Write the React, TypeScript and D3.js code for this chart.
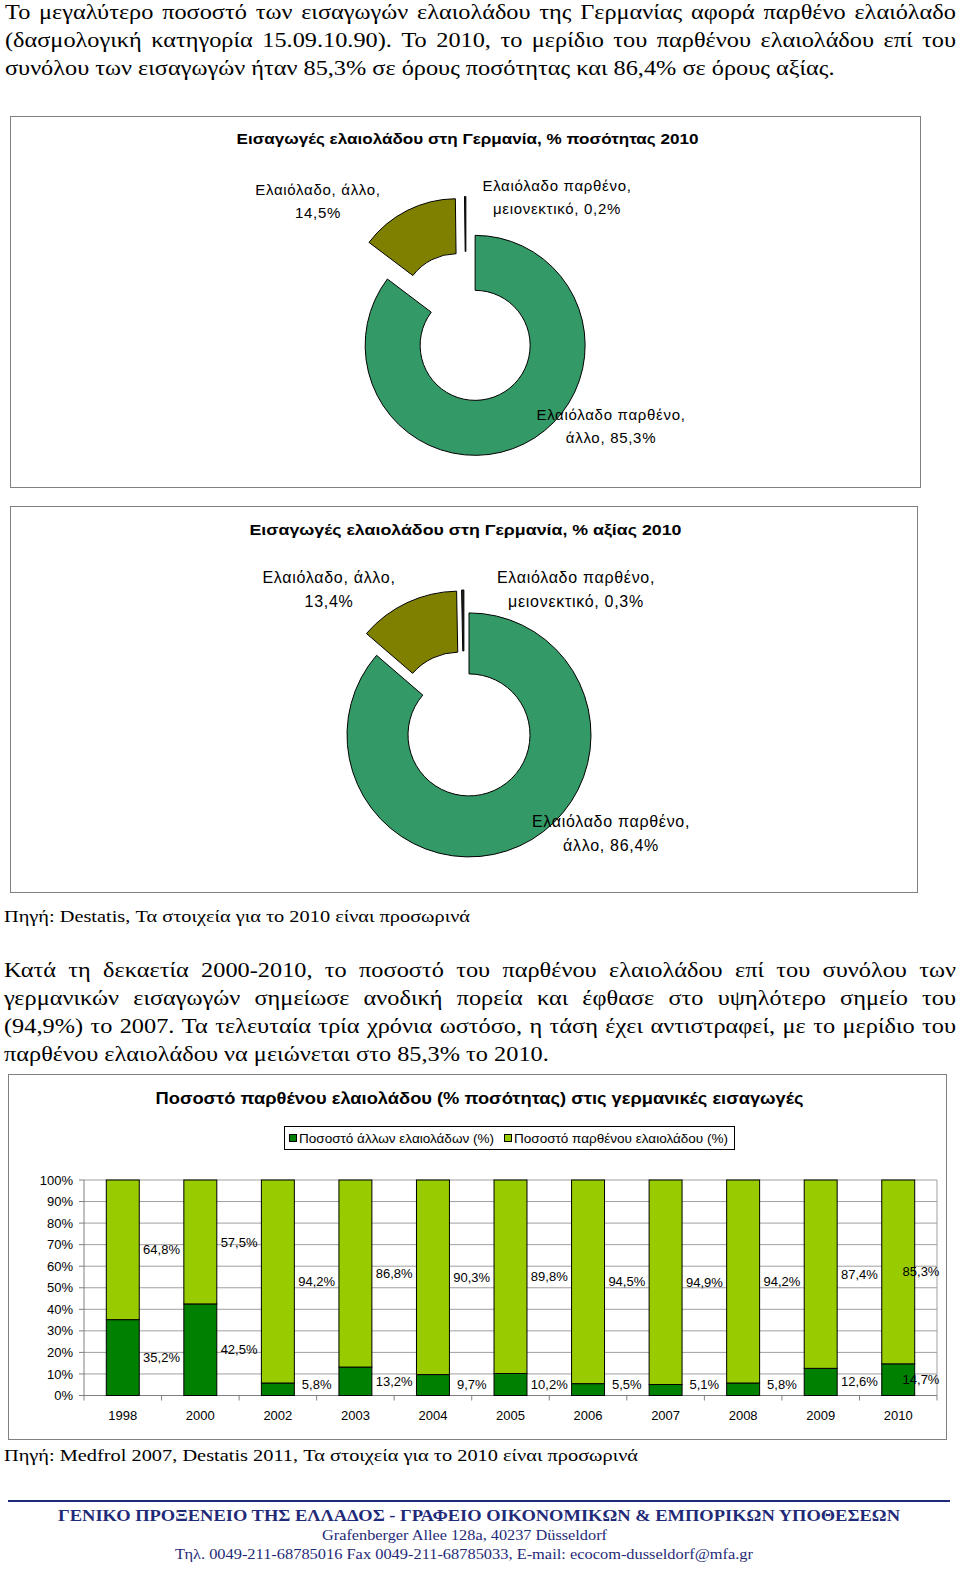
import React from 'react';
import * as d3 from 'd3';

// ---------------- DATA ----------------
const para1Lines = [
  'Το μεγαλύτερο ποσοστό των εισαγωγών ελαιολάδου της Γερμανίας αφορά παρθένο ελαιόλαδο',
  '(δασμολογική κατηγορία 15.09.10.90). Το 2010, το μερίδιο του παρθένου ελαιολάδου επί του',
  'συνόλου των εισαγωγών ήταν 85,3% σε όρους ποσότητας και 86,4% σε όρους αξίας.',
];
const para2Lines = [
  'Κατά τη δεκαετία 2000-2010, το ποσοστό του παρθένου ελαιολάδου επί του συνόλου των',
  'γερμανικών εισαγωγών σημείωσε ανοδική πορεία και έφθασε στο υψηλότερο σημείο του',
  '(94,9%) το 2007. Τα τελευταία τρία χρόνια ωστόσο, η τάση έχει αντιστραφεί, με το μερίδιο του',
  'παρθένου ελαιολάδου να μειώνεται στο 85,3% το 2010.',
];
const pieTitleQuantity = 'Εισαγωγές ελαιολάδου στη Γερμανία, % ποσότητας 2010';
const pieTitleValue = 'Εισαγωγές ελαιολάδου στη Γερμανία, % αξίας 2010';
const pieCategoryLine1 = ['Ελαιόλαδο παρθένο,', 'Ελαιόλαδο, άλλο,', 'Ελαιόλαδο παρθένο,'];
const pieCategoryLine2 = ['άλλο, ', '', 'μειονεκτικό, '];
const pieQuantity = [85.3, 14.5, 0.2];
const pieValue = [86.4, 13.4, 0.3];
const pieColors = ['#339966', '#808000', '#222222'];

const source1 = 'Πηγή: Destatis, Τα στοιχεία για το 2010 είναι προσωρινά';
const source2 = 'Πηγή: Medfrol 2007, Destatis 2011, Τα στοιχεία για το 2010 είναι προσωρινά';

const barTitle = 'Ποσοστό παρθένου ελαιολάδου (% ποσότητας) στις γερμανικές εισαγωγές';
const seriesNames = ['Ποσοστό άλλων ελαιολάδων (%)', 'Ποσοστό παρθένου ελαιολάδου (%)'];
const seriesColors = ['#008000', '#99CC00'];
const years = ['1998', '2000', '2002', '2003', '2004', '2005', '2006', '2007', '2008', '2009', '2010'];
const otherShare = [35.2, 42.5, 5.8, 13.2, 9.7, 10.2, 5.5, 5.1, 5.8, 12.6, 14.7];
const virginShare = [64.8, 57.5, 94.2, 86.8, 90.3, 89.8, 94.5, 94.9, 94.2, 87.4, 85.3];
const yTicks = [0, 10, 20, 30, 40, 50, 60, 70, 80, 90, 100];

const footerTitle = 'ΓΕΝΙΚΟ ΠΡΟΞΕΝΕΙΟ ΤΗΣ ΕΛΛΑΔΟΣ - ΓΡΑΦΕΙΟ ΟΙΚΟΝΟΜΙΚΩΝ &  ΕΜΠΟΡΙΚΩΝ ΥΠΟΘΕΣΕΩΝ';
const footerAddress = 'Grafenberger Allee 128a, 40237 Düsseldorf';
const footerContact = 'Τηλ. 0049-211-68785016  Fax 0049-211-68785033, E-mail: ecocom-dusseldorf@mfa.gr';

// ---------------- HELPERS ----------------
const SERIF = '"Liberation Serif", "Times New Roman", serif';
const SANS = '"Liberation Sans", Arial, sans-serif';
let ctx: CanvasRenderingContext2D | null = null;
function measure(text: string, font: string): number {
  if (!ctx && typeof document !== 'undefined') ctx = document.createElement('canvas').getContext('2d');
  if (!ctx) return text.length * 9;
  ctx.font = font;
  return ctx.measureText(text).width;
}
const fmt = (v: number) => v.toFixed(1).replace('.', ',') + '%';

function Paragraph({ lines, x0, width, lastWidth, baseline0, lineGap, fontSize }: any) {
  const font = `${fontSize}px "Liberation Serif"`;
  const last = lines[lines.length - 1];
  const s = lastWidth / measure(last, font);
  const W = width / s;
  return (
    <g transform={`translate(${x0},0) scale(${s},1)`} fontFamily={SERIF} fontSize={fontSize} fill="#000">
      {lines.map((line: string, i: number) => {
        const yb = baseline0 + i * lineGap;
        if (i === lines.length - 1) return <text key={i} x={0} y={yb}>{line}</text>;
        const words = line.split(' ');
        const ws = words.map((w) => measure(w, font));
        const gap = (W - d3.sum(ws)) / (words.length - 1);
        let cx = 0;
        return (
          <text key={i} y={yb}>
            {words.map((w, j) => {
              const t = <tspan key={j} x={cx}>{w}</tspan>;
              cx += ws[j] + gap;
              return t;
            })}
          </text>
        );
      })}
    </g>
  );
}

function Donut({ values, cx, cy, R, explode, labelPos, labelSize, lineGap }: any) {
  const arcs = d3.pie<number>().sort(null).value((d) => d)(values);
  const arcGen = d3.arc<d3.PieArcDatum<number>>().innerRadius(R * 0.5).outerRadius(R);
  return (
    <g>
      {arcs.map((a, i) => {
        const mid = (a.startAngle + a.endAngle) / 2;
        const dx = Math.sin(mid) * explode;
        const dy = -Math.cos(mid) * explode;
        return (
          <path key={i} transform={`translate(${cx + dx},${cy + dy})`} d={arcGen(a) || ''}
            fill={pieColors[i]} stroke="#000" strokeWidth={1} />
        );
      })}
      {values.map((v: number, i: number) => (
        <text key={'l' + i} fontFamily={SANS} fontSize={labelSize} letterSpacing={0.7} textAnchor="middle" fill="#000">
          <tspan x={labelPos[i][0]} y={labelPos[i][1]}>{pieCategoryLine1[i]}</tspan>
          <tspan x={labelPos[i][0]} y={labelPos[i][1] + lineGap}>{pieCategoryLine2[i] + fmt(v)}</tspan>
        </text>
      ))}
    </g>
  );
}

function BarChart() {
  const left = 84, right = 937, top = 1180, bottom = 1395.5;
  const x = d3.scaleBand<string>().domain(years).range([left, right]).paddingInner(0.575).paddingOuter(0.2875);
  const y = d3.scaleLinear().domain([0, 100]).range([bottom, top]);
  const rows = years.map((yr, i) => ({ year: yr, other: otherShare[i], virgin: virginShare[i] }));
  const stack = d3.stack<any>().keys(['other', 'virgin'])(rows);
  const step = x.step();
  const bw = x.bandwidth();
  return (
    <g>
      {yTicks.map((t) => (
        <line key={'g' + t} x1={left} x2={right} y1={y(t)} y2={y(t)} stroke="#a0a0a0" strokeWidth={1} />
      ))}
      <line x1={right} x2={right} y1={top} y2={bottom} stroke="#a0a0a0" />
      <line x1={left} x2={left} y1={top} y2={bottom} stroke="#808080" />
      <line x1={left} x2={right} y1={bottom} y2={bottom} stroke="#808080" />
      {yTicks.map((t) => (
        <g key={'yt' + t}>
          <line x1={left - 5} x2={left} y1={y(t)} y2={y(t)} stroke="#808080" />
          <text x={73} y={y(t)} dy="0.35em" textAnchor="end" fontFamily={SANS} fontSize={13} fill="#000">{t}%</text>
        </g>
      ))}
      {d3.range(years.length + 1).map((k) => (
        <line key={'xt' + k} x1={left + step * k} x2={left + step * k} y1={bottom} y2={bottom + 5} stroke="#808080" />
      ))}
      {stack.map((series, si) =>
        series.map((d, i) => (
          <rect key={si + '-' + i} x={x(years[i])} y={y(d[1])} width={bw} height={y(d[0]) - y(d[1])}
            fill={seriesColors[si]} stroke="#000" strokeWidth={1} />
        ))
      )}
      {stack.map((series, si) =>
        series.map((d, i) => {
          const v = si === 0 ? otherShare[i] : virginShare[i];
          const lx = Math.min((x(years[i]) as number) + bw / 2 + step / 2, right - 16);
          const ly = Math.min(y((d[0] + d[1]) / 2), 1384);
          return (
            <text key={'lab' + si + '-' + i} x={lx} y={ly} dy="0.35em" textAnchor="middle"
              fontFamily={SANS} fontSize={13} fill="#000">{fmt(v)}</text>
          );
        })
      )}
      {years.map((yr) => (
        <text key={'yr' + yr} x={(x(yr) as number) + bw / 2} y={1420} textAnchor="middle"
          fontFamily={SANS} fontSize={13} fill="#000">{yr}</text>
      ))}
    </g>
  );
}

export default function App() {
  const navy = '#1f2a78';
  return (
    <svg width={960} height={1572} viewBox="0 0 960 1572"
      style={{ position: 'absolute', left: 0, top: 0, background: '#fff' }}>
      <rect x={0} y={0} width={960} height={1572} fill="#fff" />
      <Paragraph lines={para1Lines} x0={5} width={951} lastWidth={830} baseline0={19.5} lineGap={28} fontSize={21} />

      {/* Pie 1 */}
      <rect x={10.5} y={116.5} width={910} height={371} fill="#fff" stroke="#808080" />
      <text x={236.5} y={144} textLength={462} lengthAdjust="spacingAndGlyphs" fontFamily={SANS}
        fontWeight="bold" fontSize={15} fill="#000">{pieTitleQuantity}</text>
      <Donut values={pieQuantity} cx={466} cy={327} R={110} explode={20.5}
        labelPos={[[611, 420], [318, 195], [557, 191]]} labelSize={15} lineGap={23} />

      {/* Pie 2 */}
      <rect x={10.5} y={506.5} width={907} height={386} fill="#fff" stroke="#808080" />
      <text x={249.5} y={535} textLength={432} lengthAdjust="spacingAndGlyphs" fontFamily={SANS}
        fontWeight="bold" fontSize={15} fill="#000">{pieTitleValue}</text>
      <Donut values={pieValue} cx={464} cy={724} R={122} explode={12}
        labelPos={[[611, 827], [329, 583], [576, 583]]} labelSize={16} lineGap={24} />

      <text x={4} y={922} textLength={466} lengthAdjust="spacingAndGlyphs" fontFamily={SERIF}
        fontSize={17} fill="#000">{source1}</text>

      <Paragraph lines={para2Lines} x0={4} width={952} lastWidth={545} baseline0={977} lineGap={28} fontSize={21} />

      {/* Bar chart */}
      <rect x={8.5} y={1074.5} width={938} height={365} fill="#fff" stroke="#808080" />
      <text x={155.5} y={1104} textLength={648} lengthAdjust="spacingAndGlyphs" fontFamily={SANS}
        fontWeight="bold" fontSize={17} fill="#000">{barTitle}</text>
      <rect x={284.5} y={1126.5} width={450} height={23} fill="#fff" stroke="#000" strokeWidth={1} />
      <rect x={289.5} y={1134.5} width={7} height={7} fill={seriesColors[0]} stroke="#000" />
      <text x={299} y={1142.5} textLength={195} lengthAdjust="spacingAndGlyphs" fontFamily={SANS}
        fontSize={13} fill="#000">{seriesNames[0]}</text>
      <rect x={504.5} y={1134.5} width={7} height={7} fill={seriesColors[1]} stroke="#000" />
      <text x={514} y={1142.5} textLength={214} lengthAdjust="spacingAndGlyphs" fontFamily={SANS}
        fontSize={13} fill="#000">{seriesNames[1]}</text>
      <BarChart />

      <text x={4} y={1461} textLength={634} lengthAdjust="spacingAndGlyphs" fontFamily={SERIF}
        fontSize={17} fill="#000">{source2}</text>

      {/* Footer */}
      <line x1={8} x2={950} y1={1501} y2={1501} stroke={navy} strokeWidth={2} />
      <text x={58} y={1521} textLength={842} lengthAdjust="spacingAndGlyphs" fontFamily={SERIF}
        fontWeight="bold" fontSize={17} fill={navy}>{footerTitle}</text>
      <text x={322} y={1540} textLength={285} lengthAdjust="spacingAndGlyphs" fontFamily={SERIF}
        fontSize={15} fill={navy}>{footerAddress}</text>
      <text x={175} y={1559} textLength={578} lengthAdjust="spacingAndGlyphs" fontFamily={SERIF}
        fontSize={15} fill={navy}>{footerContact}</text>
    </svg>
  );
}
